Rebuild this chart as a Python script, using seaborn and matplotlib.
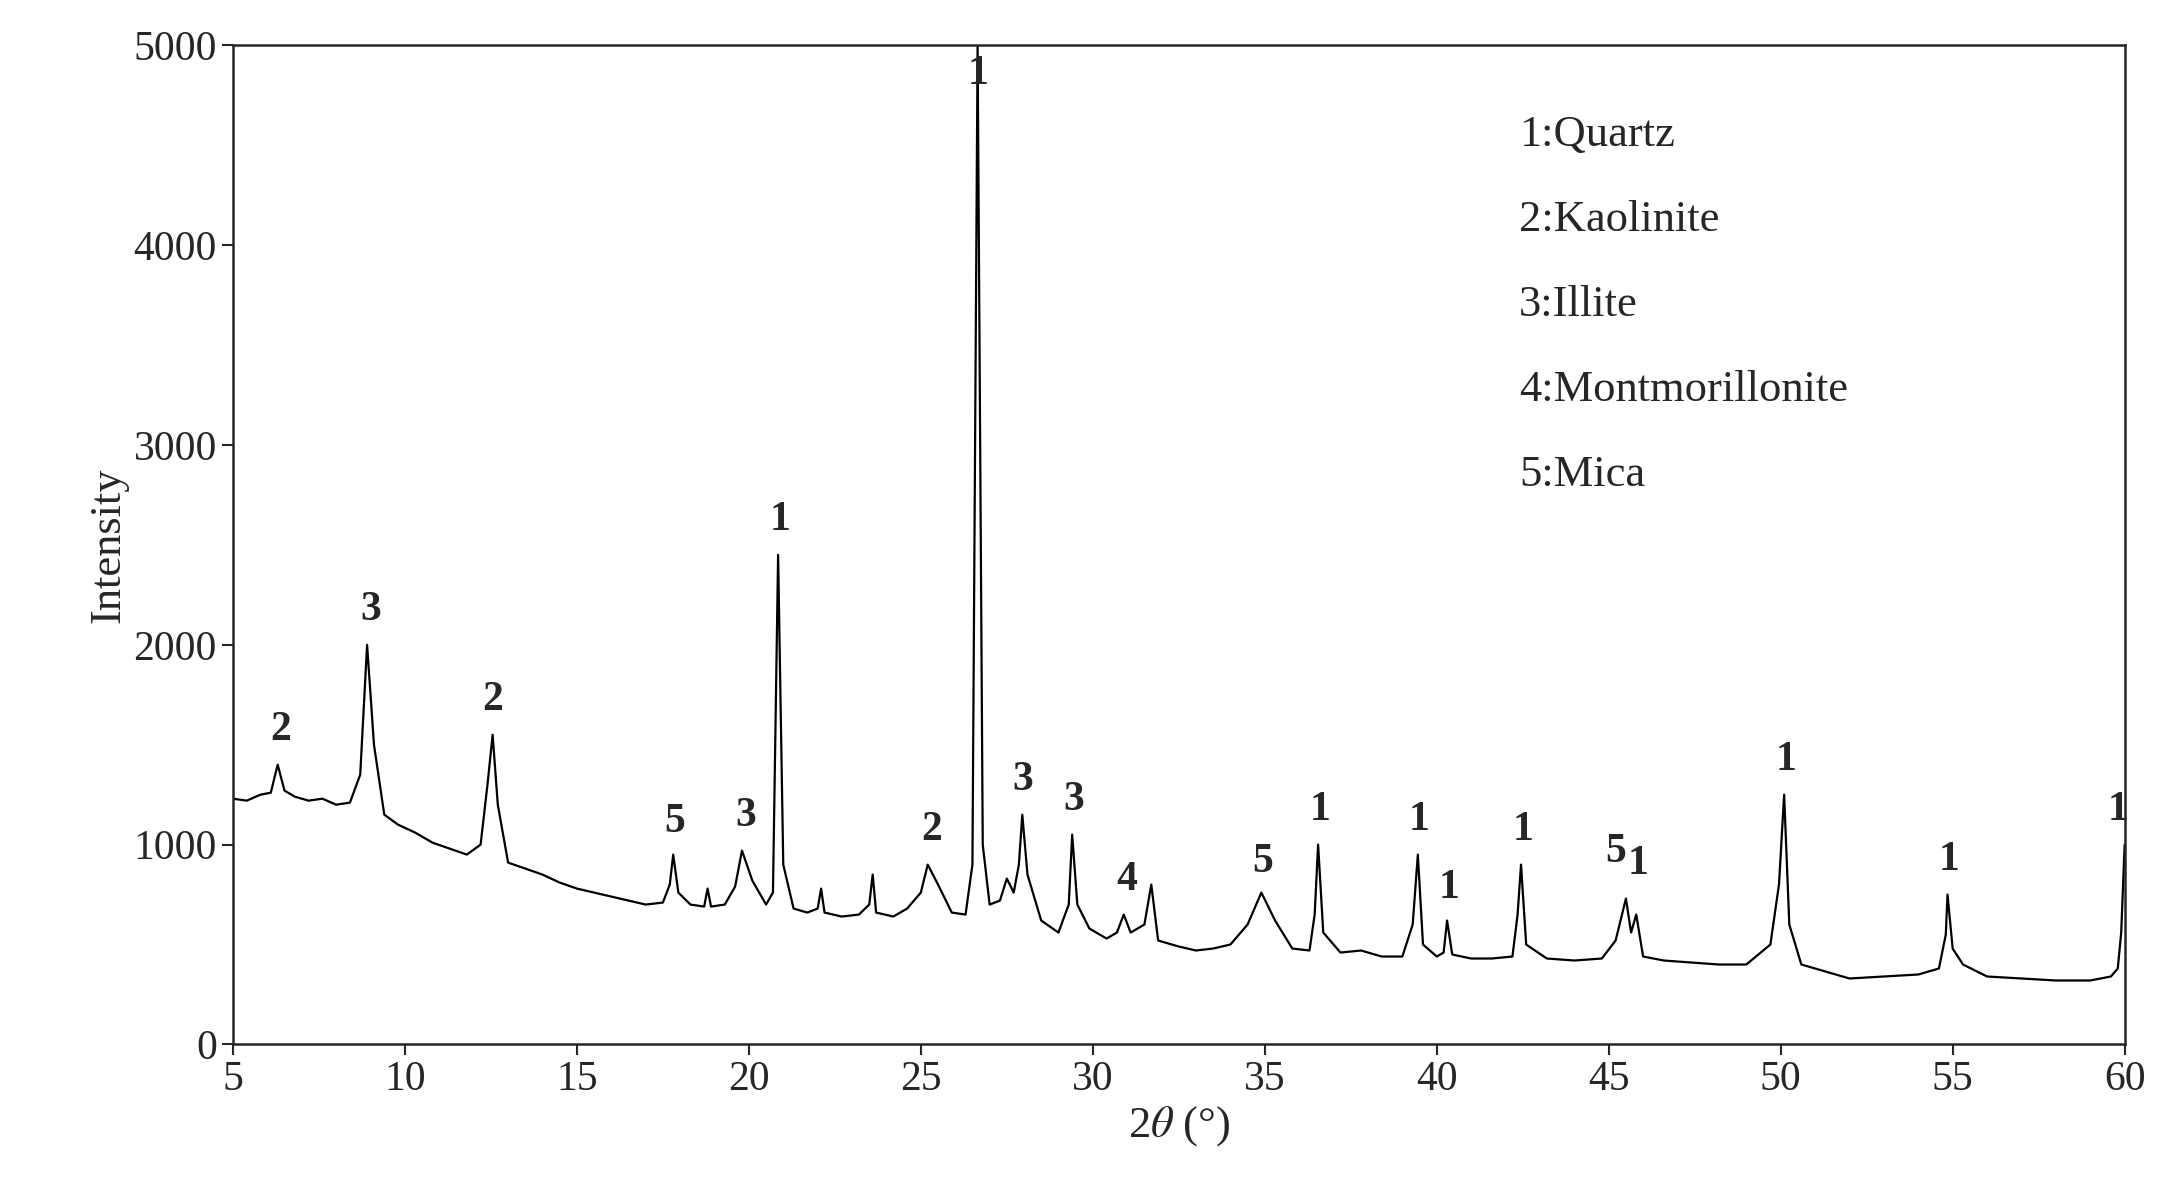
import matplotlib
matplotlib.use("Agg")
import matplotlib.pyplot as plt
import seaborn as sns
import pandas as pd

# digitised XRD pattern: (2theta in degrees, intensity in counts)
pattern = [
    (5.0, 1230), (5.4, 1220), (5.8, 1250), (6.1, 1260), (6.3, 1400), (6.5, 1270),
    (6.8, 1240), (7.2, 1220), (7.6, 1230), (8.0, 1200), (8.4, 1210), (8.7, 1350),
    (8.9, 2000), (9.1, 1500), (9.4, 1150), (9.8, 1100), (10.3, 1060), (10.8, 1010),
    (11.3, 980), (11.8, 950), (12.2, 1000), (12.4, 1300), (12.55, 1550), (12.7, 1200),
    (13.0, 910), (13.5, 880), (14.0, 850), (14.5, 810), (15.0, 780), (15.5, 760),
    (16.0, 740), (16.5, 720), (17.0, 700), (17.5, 710), (17.7, 800), (17.8, 950),
    (17.95, 760), (18.3, 700), (18.7, 690), (18.8, 780), (18.9, 690), (19.3, 700),
    (19.6, 790), (19.8, 970), (20.1, 820), (20.5, 700), (20.7, 760), (20.85, 2450),
    (21.0, 900), (21.3, 680), (21.7, 660), (22.0, 680), (22.1, 780), (22.2, 660),
    (22.7, 640), (23.2, 650), (23.5, 700), (23.6, 850), (23.7, 660), (24.2, 640),
    (24.6, 680), (25.0, 760), (25.2, 900), (25.5, 800), (25.9, 660), (26.3, 650),
    (26.5, 900), (26.65, 5000), (26.8, 1000), (27.0, 700), (27.3, 720), (27.5, 830),
    (27.7, 760), (27.85, 900), (27.95, 1150), (28.1, 850), (28.5, 620), (29.0, 560),
    (29.3, 700), (29.4, 1050), (29.55, 700), (29.9, 580), (30.4, 530), (30.7, 560),
    (30.9, 650), (31.1, 560), (31.5, 600), (31.7, 800), (31.9, 520), (32.5, 490),
    (33.0, 470), (33.5, 480), (34.0, 500), (34.5, 600), (34.9, 760), (35.3, 620),
    (35.8, 480), (36.3, 470), (36.45, 650), (36.55, 1000), (36.7, 560), (37.2, 460),
    (37.8, 470), (38.4, 440), (39.0, 440), (39.3, 600), (39.45, 950), (39.6, 500),
    (40.0, 440), (40.2, 460), (40.3, 620), (40.45, 450), (41.0, 430), (41.6, 430),
    (42.2, 440), (42.35, 650), (42.45, 900), (42.6, 500), (43.2, 430), (44.0, 420),
    (44.8, 430), (45.2, 520), (45.5, 730), (45.65, 560), (45.8, 650), (46.0, 440),
    (46.6, 420), (47.4, 410), (48.2, 400), (49.0, 400), (49.7, 500), (49.95, 800),
    (50.1, 1250), (50.25, 600), (50.6, 400), (51.2, 370), (52.0, 330), (53.0, 340),
    (54.0, 350), (54.6, 380), (54.8, 550), (54.85, 750), (55.0, 480), (55.3, 400),
    (56.0, 340), (57.0, 330), (58.0, 320), (59.0, 320), (59.6, 340), (59.8, 380),
    (59.9, 560), (60.0, 1000),
]
two_theta = [p[0] for p in pattern]
intensity = [p[1] for p in pattern]

peak_x = [6.4, 9.0, 12.55, 17.85, 19.9, 20.9, 25.3, 26.65, 27.95, 29.45, 31.0,
          34.95, 36.6, 39.5, 40.35, 42.5, 45.2, 45.85, 50.15, 54.9, 59.8]
peak_y = [1480, 2080, 1630, 1020, 1050, 2530, 980, 4760, 1230, 1130, 730,
          820, 1080, 1030, 690, 980, 870, 810, 1330, 830, 1080]
peak_id = ["2", "3", "2", "5", "3", "1", "2", "1", "3", "3", "4",
           "5", "1", "1", "1", "1", "5", "1", "1", "1", "1"]
legend_lines = ["1:Quartz", "2:Kaolinite", "3:Illite", "4:Montmorillonite", "5:Mica"]

sns.set_style("ticks")
plt.rcParams["font.family"] = ["Liberation Serif", "DejaVu Serif"]
plt.rcParams["mathtext.fontset"] = "stix"

fig = plt.figure(figsize=(21.57, 11.95), dpi=100)
ax = fig.add_axes([0.108, 0.126, 0.877, 0.836])
df = pd.DataFrame({"two_theta": two_theta, "intensity": intensity})
sns.lineplot(data=df, x="two_theta", y="intensity", color="black", linewidth=1.6,
             sort=False, ax=ax)

for px, py, t in zip(peak_x, peak_y, peak_id):
    ax.text(px, py, t, ha="center", va="bottom", fontsize=30, fontweight="bold")

for i, s in enumerate(legend_lines):
    ax.text(0.68, 0.91 - i * 0.085, s, transform=ax.transAxes, fontsize=32, va="center")

ax.set_xlim(5, 60)
ax.set_ylim(0, 5000)
ax.set_xticks(range(5, 61, 5))
ax.set_yticks(range(0, 5001, 1000))
ax.tick_params(labelsize=30, direction="out", length=8, width=1.5)
for sp in ax.spines.values():
    sp.set_linewidth(1.8)
ax.set_xlabel(r"2$\theta$ (°)", fontsize=32, labelpad=4)
ax.set_ylabel("Intensity", fontsize=32)

fig.savefig("out.png", dpi=100)
